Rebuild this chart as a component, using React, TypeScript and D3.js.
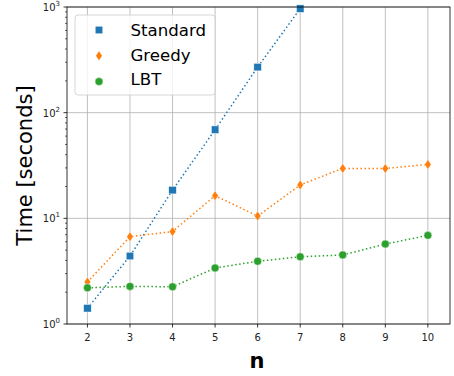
import React from 'react';
import * as d3 from 'd3';

const nValues = [2, 3, 4, 5, 6, 7, 8, 9, 10];
const standardTimes = [1.41, 4.4, 18.5, 69, 270, 965];
const greedyTimes = [2.5, 6.7, 7.5, 16.4, 10.5, 20.7, 29.7, 29.6, 32.4];
const lbtTimes = [2.2, 2.27, 2.25, 3.39, 3.92, 4.33, 4.5, 5.71, 6.9];
const yTickExps = [0, 1, 2, 3];

const series = [
  { name: 'Standard', color: '#1f77b4', shape: 'square', values: standardTimes },
  { name: 'Greedy', color: '#ff7f0e', shape: 'diamond', values: greedyTimes },
  { name: 'LBT', color: '#2ca02c', shape: 'circle', values: lbtTimes },
];

const W = 454;
const H = 376;
const margin = { top: 7, right: 4, bottom: 52, left: 67 };

const Marker: React.FC<{ shape: string; x: number; y: number; color: string }> = ({ shape, x, y, color }) => {
  if (shape === 'square') {
    return <rect x={x - 3.8} y={y - 3.8} width={7.6} height={7.6} fill={color} stroke="#fff" strokeWidth={0.5} />;
  }
  if (shape === 'diamond') {
    return (
      <path
        d={`M${x},${y - 5} L${x + 3.3},${y} L${x},${y + 5} L${x - 3.3},${y} Z`}
        fill={color}
        stroke="#fff"
        strokeWidth={0.5}
      />
    );
  }
  return <circle cx={x} cy={y} r={4} fill={color} stroke="#fff" strokeWidth={0.5} />;
};

export default function App() {
  const x = d3.scaleLinear().domain([1.52, 10.52]).range([margin.left, W - margin.right]);
  const y = d3.scaleLog().domain([1, 1000]).range([H - margin.bottom, margin.top]);

  const line = d3
    .line<number>()
    .x((_, i) => x(nValues[i]))
    .y(d => y(d));

  const minorTicks: number[] = [];
  for (let e = 0; e < 3; e++) {
    for (let k = 2; k <= 9; k++) minorTicks.push(k * Math.pow(10, e));
  }

  const x0 = margin.left;
  const x1 = W - margin.right;
  const y0 = H - margin.bottom;
  const y1 = margin.top;

  return (
    <svg width={W} height={H} style={{ position: 'absolute', left: 0, top: 0 }} fontFamily="DejaVu Sans">
      <rect width={W} height={H} fill="#fff" />
      {/* grid */}
      {nValues.map(n => (
        <line key={`gx${n}`} x1={x(n)} x2={x(n)} y1={y1} y2={y0} stroke="#b0b0b0" strokeWidth={0.8} />
      ))}
      {yTickExps.map(e => (
        <line key={`gy${e}`} x1={x0} x2={x1} y1={y(Math.pow(10, e))} y2={y(Math.pow(10, e))} stroke="#b0b0b0" strokeWidth={0.8} />
      ))}

      {/* lines */}
      {series.map(s => (
        <path
          key={s.name}
          d={line(s.values) || ''}
          fill="none"
          stroke={s.color}
          strokeWidth={1.5}
          strokeDasharray="1.5,2.5"
        />
      ))}
      {series.map(s =>
        s.values.map((v, i) => (
          <Marker key={`${s.name}${i}`} shape={s.shape} x={x(nValues[i])} y={y(v)} color={s.color} />
        ))
      )}

      {/* spines */}
      <rect x={x0} y={y1} width={x1 - x0} height={y0 - y1} fill="none" stroke="#000" strokeWidth={0.8} />

      {/* x ticks */}
      {nValues.map(n => (
        <g key={`xt${n}`}>
          <line x1={x(n)} x2={x(n)} y1={y0} y2={y0 + 3.5} stroke="#000" strokeWidth={0.8} />
          <text x={x(n)} y={y0 + 17} textAnchor="middle" fontSize={10} fill="#222">
            {n}
          </text>
        </g>
      ))}

      {/* y ticks */}
      {yTickExps.map(e => (
        <g key={`yt${e}`}>
          <line x1={x0 - 3.5} x2={x0} y1={y(Math.pow(10, e))} y2={y(Math.pow(10, e))} stroke="#000" strokeWidth={0.8} />
          <text x={x0 - 7} y={y(Math.pow(10, e)) + 4} textAnchor="end" fontSize={10} fill="#222">
            10
            <tspan dy={-5} fontSize={7}>
              {e}
            </tspan>
          </text>
        </g>
      ))}
      {minorTicks.map(t => (
        <line key={`m${t}`} x1={x0 - 2} x2={x0} y1={y(t)} y2={y(t)} stroke="#000" strokeWidth={0.6} />
      ))}

      {/* axis labels */}
      <text x={257} y={368} textAnchor="middle" fontSize={21} fontWeight="bold" fill="#000">
        n
      </text>
      <text
        transform={`translate(32,${(y0 + y1) / 2}) rotate(-90)`}
        textAnchor="middle"
        fontSize={21}
        fill="#000"
      >
        Time [seconds]
      </text>

      {/* legend */}
      <rect x={75} y={15} width={140} height={80} rx={3} fill="#fff" fillOpacity={0.8} stroke="#ccc" strokeWidth={0.8} />
      {series.map((s, i) => (
        <g key={`lg${s.name}`}>
          <Marker shape={s.shape} x={99} y={30 + i * 25.8} color={s.color} />
          <text x={130.5} y={36 + i * 24.5} fontSize={16.6} fill="#000">
            {s.name}
          </text>
        </g>
      ))}
    </svg>
  );
}
